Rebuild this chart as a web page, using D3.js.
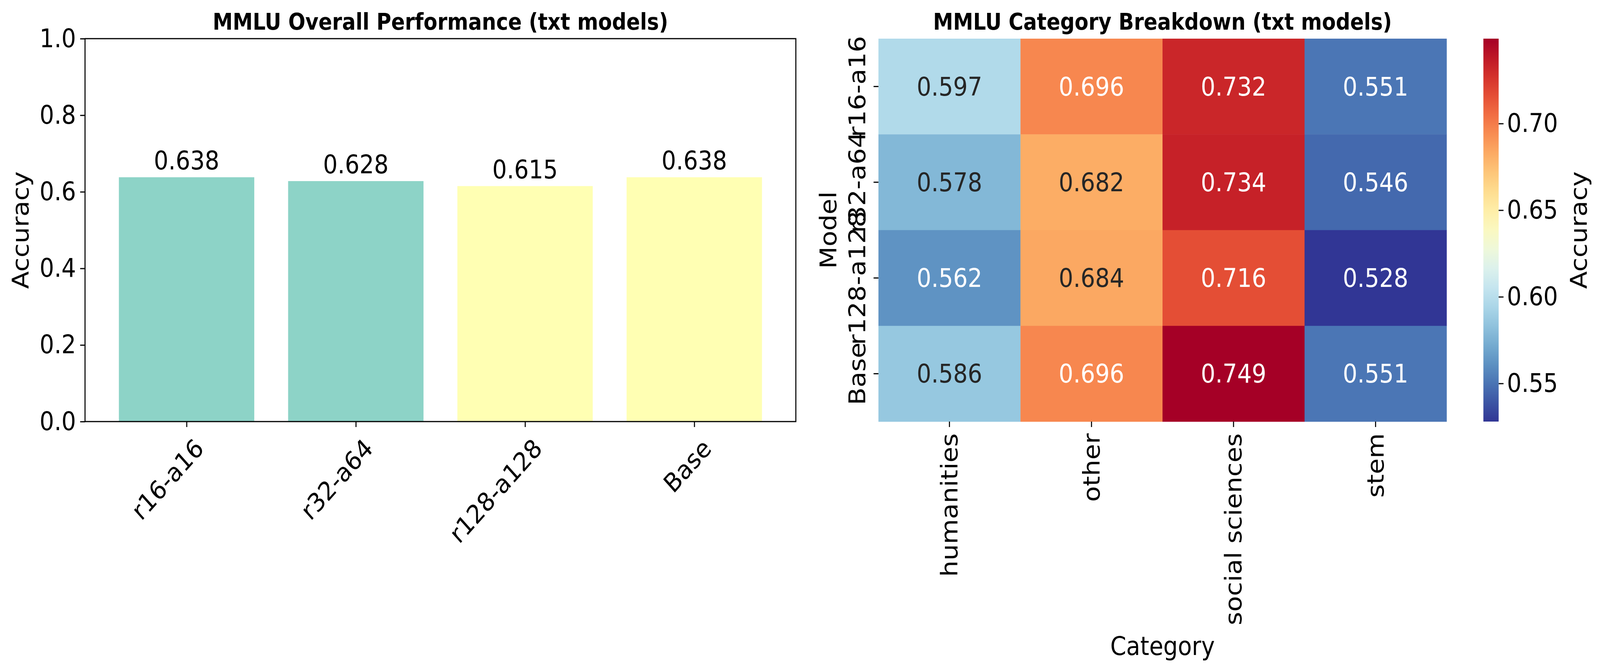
<!DOCTYPE html>
<html>
<head>
<meta charset="utf-8">
<script src="https://cdn.jsdelivr.net/npm/d3@7"></script>
<style>
  html, body { margin: 0; padding: 0; background: #fff; overflow: hidden; }
  svg { display: block; width: 100vw; height: 100vh; }
  text { font-family: "DejaVu Sans", sans-serif; }
</style>
</head>
<body>
<svg id="chart" viewBox="0 0 4610 1719" preserveAspectRatio="none"></svg>
<script>
// overall bar chart
const models = ['r16-a16', 'r32-a64', 'r128-a128', 'Base'];
const overall = [0.638, 0.628, 0.615, 0.638];
const barColors = ['#8dd3c7', '#8dd3c7', '#ffffb3', '#ffffb3'];
const yTicks = [0.0, 0.2, 0.4, 0.6, 0.8, 1.0];

// category heatmap
const categories = ['humanities', 'other', 'social sciences', 'stem'];
const catValues = [
    [0.597, 0.696, 0.732, 0.551],
    [0.578, 0.682, 0.734, 0.546],
    [0.562, 0.684, 0.716, 0.528],
    [0.586, 0.696, 0.749, 0.551]
];
const cbTicks = [0.55, 0.60, 0.65, 0.70];

const svg = d3.select('#chart');
const FS = 66;

// ---- left panel
const L = {left: 245, right: 2293, top: 99, bottom: 1080};
const x = d3.scaleLinear().domain([-0.6, 3.6]).range([L.left, L.right]);
const y = d3.scaleLinear().domain([0, 1]).range([L.bottom, L.top]);
const bw = x(0.8) - x(0);

svg.selectAll('rect.bar').data(overall).enter().append('rect')
    .attr('class', 'bar')
    .attr('x', (d, i) => x(i) - bw / 2)
    .attr('width', bw)
    .attr('y', d => y(d))
    .attr('height', d => y(0) - y(d))
    .attr('fill', (d, i) => barColors[i]);

svg.selectAll('text.val').data(overall).enter().append('text')
    .attr('x', (d, i) => x(i))
    .attr('y', d => y(d) - 20)
    .attr('text-anchor', 'middle')
    .attr('font-size', FS)
    .text(d => d.toFixed(3));

const yAxis = svg.append('g').attr('transform', `translate(${L.left},0)`)
    .call(d3.axisLeft(y).tickValues(yTicks).tickFormat(d3.format('.1f')).tickSize(14).tickPadding(12));
const xAxis = svg.append('g').attr('transform', `translate(0,${L.bottom})`)
    .call(d3.axisBottom(x).tickValues(d3.range(models.length)).tickFormat(i => models[i]).tickSize(14));
[yAxis, xAxis].forEach(a => {
    a.select('.domain').remove();
    a.selectAll('line').attr('stroke-width', 3);
    a.selectAll('text').attr('font-size', FS).attr('font-family', '"DejaVu Sans", sans-serif').attr('fill', '#000');
});
xAxis.selectAll('text')
    .attr('text-anchor', 'end')
    .attr('transform', 'translate(20,40) rotate(-45)')
    .attr('dy', '0.7em').attr('y', 0);

svg.append('rect').attr('x', L.left).attr('y', L.top)
    .attr('width', L.right - L.left).attr('height', L.bottom - L.top)
    .attr('fill', 'none').attr('stroke', '#000').attr('stroke-width', 3);

svg.append('text').attr('x', (L.left + L.right) / 2).attr('y', 76)
    .attr('text-anchor', 'middle').attr('font-size', 58).attr('font-weight', 'bold')
    .text('MMLU Overall Performance (txt models)');
svg.append('text').attr('transform', `translate(82,${(L.top + L.bottom) / 2}) rotate(-90)`)
    .attr('text-anchor', 'middle').attr('font-size', FS).text('Accuracy');

// ---- right panel
const H = {left: 2531, right: 4168, top: 99, bottom: 1080};
const hx = d3.scaleBand().domain(categories).range([H.left, H.right]);
const hy = d3.scaleBand().domain(models).range([H.top, H.bottom]);
const vmin = 0.528, vmax = 0.749;
const color = d3.scaleSequential(t => d3.interpolateRdYlBu(1 - t)).domain([vmin, vmax]);

const cells = [];
catValues.forEach((row, r) => row.forEach((v, c) => cells.push({m: models[r], c: categories[c], v})));

svg.selectAll('rect.cell').data(cells).enter().append('rect')
    .attr('x', d => hx(d.c)).attr('y', d => hy(d.m))
    .attr('width', hx.bandwidth() + 0.5).attr('height', hy.bandwidth() + 0.5)
    .attr('fill', d => color(d.v));

svg.selectAll('text.cellv').data(cells).enter().append('text')
    .attr('x', d => hx(d.c) + hx.bandwidth() / 2)
    .attr('y', d => hy(d.m) + hy.bandwidth() / 2)
    .attr('dy', '0.35em').attr('text-anchor', 'middle').attr('font-size', FS)
    .attr('fill', d => {
        const c = d3.rgb(color(d.v));
        const lum = 0.2126 * c.r + 0.7152 * c.g + 0.0722 * c.b;
        return lum > 170 ? '#262626' : '#ffffff';
    })
    .text(d => d.v.toFixed(3));

const hxAxis = svg.append('g').attr('transform', `translate(0,${H.bottom})`)
    .call(d3.axisBottom(hx).tickSize(14));
const hyAxis = svg.append('g').attr('transform', `translate(${H.left},0)`)
    .call(d3.axisLeft(hy).tickSize(14));
[hxAxis, hyAxis].forEach(a => {
    a.select('.domain').remove();
    a.selectAll('line').attr('stroke-width', 3);
    a.selectAll('text').attr('font-size', FS).attr('font-family', '"DejaVu Sans", sans-serif').attr('fill', '#000');
});
hxAxis.selectAll('text').attr('text-anchor', 'end').attr('y', 0).attr('dy', '0.35em')
    .attr('transform', 'translate(0,30) rotate(-90)');
hyAxis.selectAll('text').attr('text-anchor', 'middle').attr('x', 0).attr('dy', 0)
    .attr('transform', 'translate(-38,0) rotate(-90)');

svg.append('text').attr('x', (H.left + H.right) / 2).attr('y', 76)
    .attr('text-anchor', 'middle').attr('font-size', 58).attr('font-weight', 'bold')
    .text('MMLU Category Breakdown (txt models)');
svg.append('text').attr('x', (H.left + H.right) / 2).attr('y', 1678)
    .attr('text-anchor', 'middle').attr('font-size', FS).text('Category');
svg.append('text').attr('transform', `translate(2410,${(H.top + H.bottom) / 2}) rotate(-90)`)
    .attr('text-anchor', 'middle').attr('font-size', FS).text('Model');

// colorbar
const cb = {left: 4274, width: 44};
const cy = d3.scaleLinear().domain([vmin, vmax]).range([H.bottom, H.top]);
const defs = svg.append('defs');
const grad = defs.append('linearGradient').attr('id', 'cbg')
    .attr('x1', 0).attr('y1', 1).attr('x2', 0).attr('y2', 0);
d3.range(0, 1.001, 0.05).forEach(t => grad.append('stop')
    .attr('offset', t).attr('stop-color', color(vmin + t * (vmax - vmin))));
svg.append('rect').attr('x', cb.left).attr('y', H.top)
    .attr('width', cb.width).attr('height', H.bottom - H.top).attr('fill', 'url(#cbg)');
const cbAxis = svg.append('g').attr('transform', `translate(${cb.left + cb.width},0)`)
    .call(d3.axisRight(cy).tickValues(cbTicks).tickFormat(d3.format('.2f')).tickSize(14).tickPadding(10));
cbAxis.select('.domain').remove();
cbAxis.selectAll('line').attr('stroke-width', 3);
cbAxis.selectAll('text').attr('font-size', FS).attr('font-family', '"DejaVu Sans", sans-serif').attr('fill', '#000');
svg.append('text').attr('transform', `translate(4572,${(H.top + H.bottom) / 2}) rotate(-90)`)
    .attr('text-anchor', 'middle').attr('font-size', FS).text('Accuracy');
</script>
</body>
</html>
